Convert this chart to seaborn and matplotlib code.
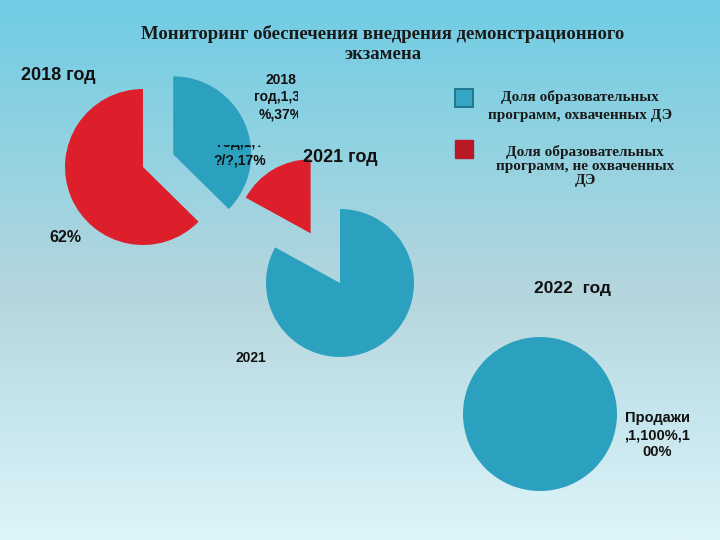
import numpy as np
import matplotlib
matplotlib.use("Agg")
import matplotlib.pyplot as plt
import seaborn as sns
from matplotlib.patches import Rectangle
from matplotlib.colors import LinearSegmentedColormap
from matplotlib.transforms import Bbox, TransformedBbox

sns.set_theme(style="white")
plt.rcParams['font.family'] = ['Liberation Sans', 'DejaVu Sans']

# ---- data ----
title = "Мониторинг обеспечения внедрения демонстрационного\nэкзамена"
legend_labels = ["Доля образовательных\nпрограмм, охваченных ДЭ",
                 "Доля образовательных\nпрограмм, не охваченных\nДЭ"]
years = ["2018 год", "2021 год", "2022  год"]
values_2018 = [62, 37]          # not covered, covered
values_2021 = [17, 83]          # not covered, covered
values_2022 = [100]             # covered
labels_2018 = ["62%", "2018\nгод,1,37\n%,37%"]
labels_2021 = ["2021\nгод,1,?\n?/?,17%", "2021\nгод,1,83"]
labels_2022 = ["Продажи\n,1,100%,1\n00%"]

BLUE = "#2ba1bf"
RED = "#dc1f2b"
LEG_RED = "#b81a25"

W, H = 720, 540
fig = plt.figure(figsize=(7.2, 5.4), dpi=100)
ax = fig.add_axes([0, 0, 1, 1])

# background gradient (top -> bottom)
cmap = LinearSegmentedColormap.from_list(
    "bg", [(0.0, "#70cce4"), (0.25, "#8fd2e2"), (0.55, "#b6d6dd"), (0.8, "#c9e7ee"), (1.0, "#def5f9")])
grad = np.linspace(0, 1, 256).reshape(-1, 1)
ax.imshow(grad, extent=(0, W, 0, H), aspect="auto", cmap=cmap, origin="upper", zorder=0)

def py(y):
    return H - y

R1, R2, R3 = 78, 74, 77
# 2018 pie
ax.pie(values_2018, colors=[RED, BLUE], startangle=90, counterclock=True,
       explode=[0, 0.42 * R1], center=(143, py(167)), radius=R1,
       wedgeprops=dict(linewidth=0), frame=True)
# 2021 pie
ax.pie(values_2021, colors=[RED, BLUE], startangle=90, counterclock=True,
       explode=[0.78 * R2, 0], center=(340, py(283)), radius=R2,
       wedgeprops=dict(linewidth=0), frame=True)
# 2022 pie
ax.pie(values_2022, colors=[BLUE], startangle=90, counterclock=True,
       center=(540, py(414)), radius=R3,
       wedgeprops=dict(linewidth=0), frame=True)

ax.set_xlim(0, W)
ax.set_ylim(0, H)
ax.set_aspect("auto")
ax.axis("off")

# title
ax.text(383, py(44), title, ha="center", va="center", fontsize=13.5,
        fontweight="bold", family=["Liberation Serif"], color="#1a1a1a",
        linespacing=1.25)

# year headers
ax.text(58, py(76), years[0], ha="center", va="center", fontsize=13, fontweight="bold", color="#111")
ax.text(340, py(157), years[1], ha="center", va="center", fontsize=13, fontweight="bold", color="#111")
ax.text(572, py(288), years[2], ha="center", va="center", fontsize=12.5, fontweight="bold", color="#111")

def clipped_text(x, y, s, clip, **kw):
    t = ax.text(x, py(y), s, ha="center", va="center", fontsize=10,
                fontweight="bold", color="#111", linespacing=1.3, **kw)
    x0, y0, x1, y1 = clip
    t.set_clip_box(TransformedBbox(Bbox.from_extents(x0, py(y1), x1, py(y0)), ax.transData))
    t.set_clip_on(True)
    return t

# data labels
ax.text(65, py(237), labels_2018[0], ha="center", va="center", fontsize=11.5, fontweight="bold", color="#111")
clipped_text(281, 97, labels_2018[1], (200, 60, 298, 130))
clipped_text(240, 143, labels_2021[0], (190, 145, 300, 175))
clipped_text(251, 367, labels_2021[1], (200, 340, 300, 370))
ax.text(657, py(435), labels_2022[0], ha="center", va="center", fontsize=10.5,
        fontweight="bold", color="#111", linespacing=1.3)

# legend
ax.add_patch(Rectangle((455, py(107)), 18, 18, facecolor="#34a6c4", edgecolor="#1f7890", linewidth=1.4))
ax.add_patch(Rectangle((455, py(158)), 18, 18, facecolor=LEG_RED, edgecolor=LEG_RED, linewidth=1))
ax.text(580, py(106), legend_labels[0], ha="center", va="center", fontsize=11,
        fontweight="bold", family=["Liberation Serif"], color="#1a1a1a", linespacing=1.45)
ax.text(585, py(166), legend_labels[1], ha="center", va="center", fontsize=11,
        fontweight="bold", family=["Liberation Serif"], color="#1a1a1a", linespacing=1.1)

fig.savefig("out.png", dpi=100)
